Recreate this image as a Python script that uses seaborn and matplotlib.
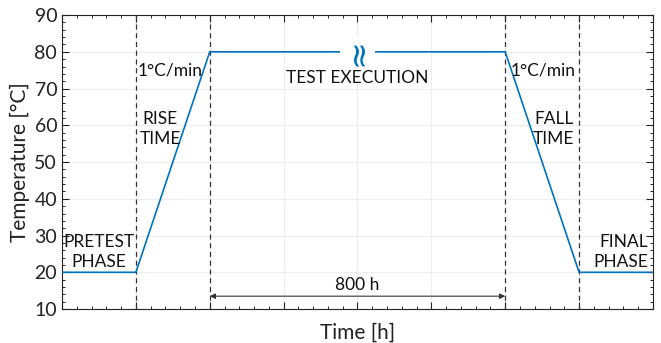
import matplotlib
matplotlib.use("Agg")
import matplotlib.pyplot as plt
from matplotlib.ticker import MultipleLocator, AutoMinorLocator, NullFormatter
import seaborn as sns
import pandas as pd

# Data
time_pts = [0, 1, 2, 6, 7, 8]
temp_pts = [20, 20, 80, 80, 20, 20]
phase_bounds = [1, 2, 6, 7]
y_ticks = [10, 20, 30, 40, 50, 60, 70, 80, 90]
duration_label = "800 h"

sns.set_theme(style="white")
plt.rcParams['font.family'] = ['Lato', 'DejaVu Sans']

fig = plt.figure(figsize=(6.61, 3.43), dpi=100)
ax = fig.add_axes([0.0938, 0.099, 0.894, 0.857])

df = pd.DataFrame({"Time": time_pts, "Temp": temp_pts})
sns.lineplot(data=df, x="Time", y="Temp", ax=ax, color="#0072BD", linewidth=1.2, zorder=3)

for xb in phase_bounds:
    ax.axvline(xb, color="#333333", linestyle=(0, (4, 3)), linewidth=0.9, zorder=2)

ax.set_xlim(0, 8)
ax.set_ylim(10, 90)
ax.set_yticks(y_ticks)
ax.xaxis.set_major_locator(MultipleLocator(1))
ax.xaxis.set_major_formatter(NullFormatter())
ax.xaxis.set_minor_locator(AutoMinorLocator(5))
ax.yaxis.set_minor_locator(AutoMinorLocator(5))
ax.tick_params(which="both", direction="in", top=True, right=True, bottom=True, left=True,
               colors="#222222", labelsize=14)
ax.tick_params(which="major", length=5, width=0.8)
ax.tick_params(which="minor", length=2.5, width=0.7)
ax.grid(True, which="major", color="#ededed", linewidth=0.8)
ax.set_axisbelow(True)
for s in ax.spines.values():
    s.set_color("#222222")
    s.set_linewidth(0.8)

ax.set_xlabel("Time [h]", fontsize=15, color="#222222", labelpad=6)
ax.set_ylabel("Temperature [°C]", fontsize=15, color="#222222", labelpad=3)

# break symbol on plateau
ax.text(4.0, 80, "≈", rotation=90, ha="center", va="center", fontsize=24,
        family="DejaVu Sans", color="#0072BD", zorder=5,
        bbox=dict(facecolor="white", edgecolor="none", pad=0.5))

fs = 12.5
tc = "#111111"
ax.text(0.5, 25.5, "PRETEST\nPHASE", ha="center", va="center", fontsize=fs,
        linespacing=1.3, color=tc)
ax.text(1.02, 75, "1°C/min", ha="left", va="center", fontsize=fs, color=tc)
ax.text(1.33, 59, "RISE\nTIME", ha="center", va="center", fontsize=fs,
        linespacing=1.3, color=tc)
ax.text(4.0, 72.9, "TEST EXECUTION", ha="center", va="center", fontsize=fs, color=tc)
ax.text(6.08, 75, "1°C/min", ha="left", va="center", fontsize=fs, color=tc)
ax.text(6.93, 59, "FALL\nTIME", ha="right", va="center", fontsize=fs,
        linespacing=1.3, color=tc, multialignment="right")
ax.text(7.56, 25.5, "FINAL\nPHASE", ha="center", va="center", fontsize=fs,
        linespacing=1.3, color=tc, multialignment="right")

ax.annotate("", xy=(6, 13.5), xytext=(2, 13.5),
            arrowprops=dict(arrowstyle="<|-|>", color="#333333", lw=0.8,
                            mutation_scale=8, shrinkA=0, shrinkB=0))
ax.text(4.0, 16.5, duration_label, ha="center", va="center", fontsize=fs, color=tc)

fig.savefig("out.png", dpi=100)
